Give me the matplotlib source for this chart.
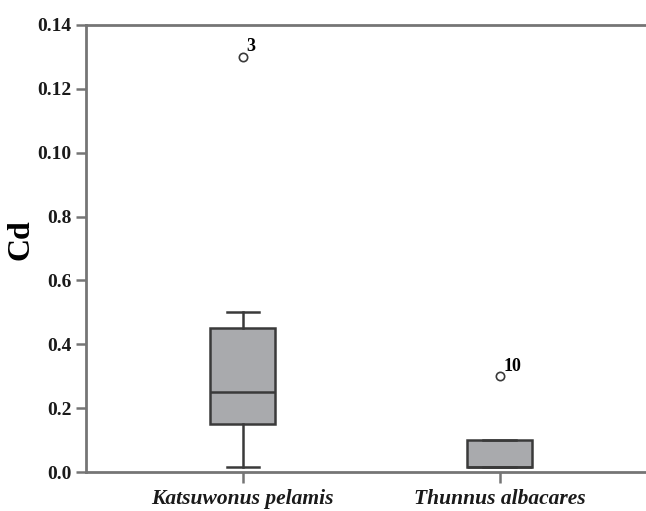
import matplotlib.pyplot as plt

# values
species = ['Katsuwonus pelamis', 'Thunnus albacares']
whislo = [0.015, 0.015]
q1 = [0.15, 0.015]
med = [0.25, 0.015]
q3 = [0.45, 0.10]
whishi = [0.50, 0.10]
outliers = [[1.30], [0.30]]
outlier_ids = [['3'], ['10']]
ytick_vals = [0.0, 0.2, 0.4, 0.6, 0.8, 1.0, 1.2, 1.4]
ytick_labels = ['0.0', '0.2', '0.4', '0.6', '0.8', '0.10', '0.12', '0.14']

plt.rcParams['font.family'] = ['Liberation Serif', 'DejaVu Serif']
plt.rcParams['font.weight'] = 'bold'

spine_col = '#757575'
edge_col = '#3a3a3a'

fig = plt.figure(figsize=(6.46, 5.11), dpi=100)
ax = fig.add_axes([0.133, 0.0763, 0.867, 0.875])

stats = []
for i, name in enumerate(species):
    stats.append(dict(label=name, whislo=whislo[i], q1=q1[i], med=med[i],
                      q3=q3[i], whishi=whishi[i], fliers=outliers[i]))

pos = [1, 2]
ax.bxp(stats, positions=pos, widths=0.253, patch_artist=True,
       boxprops=dict(facecolor='#a9aaad', edgecolor=edge_col, linewidth=1.8),
       medianprops=dict(color=edge_col, linewidth=1.8),
       whiskerprops=dict(color=edge_col, linewidth=1.8),
       capprops=dict(color=edge_col, linewidth=1.8),
       capwidths=0.125,
       flierprops=dict(marker='o', markersize=6, markerfacecolor='white',
                       markeredgecolor=edge_col, markeredgewidth=1.2))

for i in range(len(species)):
    for v, lab in zip(outliers[i], outlier_ids[i]):
        ax.annotate(lab, (pos[i], v), xytext=(3, 1), textcoords='offset points',
                    fontsize=13, fontweight='bold', ha='left', va='bottom')

ax.set_xlim(0.39, 2.57)
ax.set_ylim(0, 1.4)
ax.set_yticks(ytick_vals)
ax.set_yticklabels(ytick_labels, fontsize=14, fontweight='bold')
ax.set_xticks(pos)
ax.set_xticklabels(species, fontsize=15.5, fontweight='bold', fontstyle='italic')
ax.set_ylabel('Cd', fontsize=23, fontweight='bold')
ax.yaxis.set_label_coords(-0.09, 0.52)

for s in ['right']:
    ax.spines[s].set_visible(False)
for s in ['left', 'top', 'bottom']:
    ax.spines[s].set_color(spine_col)
    ax.spines[s].set_linewidth(2)
ax.tick_params(axis='both', colors=spine_col, width=1.8, length=7)
ax.tick_params(axis='x', length=8, pad=4)
for lbl in ax.get_xticklabels() + ax.get_yticklabels():
    lbl.set_color('#1a1a1a')

fig.savefig('out.png', dpi=100)
